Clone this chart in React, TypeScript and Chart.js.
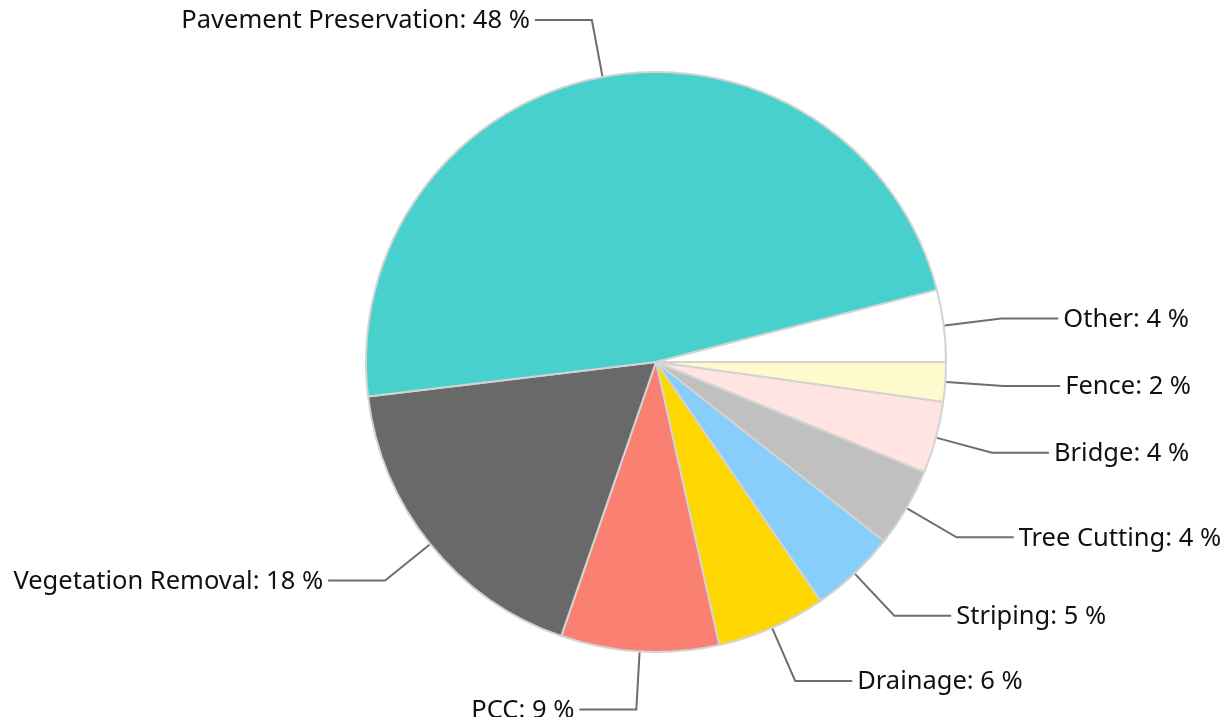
import React, { useEffect, useRef } from "react";
import { Chart, registerables } from "chart.js";

Chart.register(...registerables);

const categories = [
  "Fence",
  "Bridge",
  "Tree Cutting",
  "Striping",
  "Drainage",
  "PCC",
  "Vegetation Removal",
  "Pavement Preservation",
  "Other",
];
const values = [2.2, 4.0, 4.4, 4.8, 6.1, 8.8, 17.8, 47.9, 4.0];
const colors = [
  "#FFFACD",
  "#FFE4E1",
  "#C0C0C0",
  "#87CEFA",
  "#FFD700",
  "#FA8072",
  "#696969",
  "#48D1CC",
  "#FFFFFF",
];

const FONT = '25.5px "Noto Sans"';

const leaderPlugin = {
  id: "leaderLabels",
  afterDatasetsDraw(chart: any) {
    const ctx = chart.ctx;
    const meta = chart.getDatasetMeta(0);
    const data = chart.data.datasets[0].data as number[];
    const total = data.reduce((a, b) => a + b, 0);
    ctx.save();
    ctx.font = FONT;
    ctx.textBaseline = "middle";
    meta.data.forEach((arc: any, i: number) => {
      const { x, y, startAngle, endAngle, outerRadius } = arc.getProps(
        ["x", "y", "startAngle", "endAngle", "outerRadius"],
        true
      );
      const mid = (startAngle + endAngle) / 2;
      const c = Math.cos(mid);
      const s = Math.sin(mid);
      const r0 = outerRadius + 1;
      const r1 = outerRadius + 58;
      const x0 = x + c * r0;
      const y0 = y + s * r0;
      const x1 = x + c * r1;
      const y1 = y + s * r1;
      const dir = c >= 0 ? 1 : -1;
      const x2 = x1 + dir * 57;
      ctx.strokeStyle = "#6E6E6E";
      ctx.lineWidth = 2;
      ctx.beginPath();
      ctx.moveTo(x0, y0);
      ctx.lineTo(x1, y1);
      ctx.lineTo(x2, y1);
      ctx.stroke();
      const pct = Math.round((data[i] / total) * 100);
      const text = `${chart.data.labels[i]}: ${pct} %`;
      ctx.fillStyle = "#111111";
      ctx.textAlign = dir > 0 ? "left" : "right";
      ctx.fillText(text, x2 + dir * 5, y1 + 1);
    });
    ctx.restore();
  },
};

export default function App() {
  const ref = useRef<HTMLCanvasElement | null>(null);
  useEffect(() => {
    if (!ref.current) return;
    const chart = new Chart(ref.current, {
      type: "pie",
      data: {
        labels: categories,
        datasets: [
          {
            data: values,
            backgroundColor: colors,
            borderColor: "#D3D3D3",
            borderWidth: 2,
          },
        ],
      },
      options: {
        animation: false,
        responsive: true,
        maintainAspectRatio: false,
        rotation: 90,
        radius: 290,
        layout: { padding: { left: 84, right: 0, top: 0, bottom: 9 } },
        plugins: {
          legend: { display: false },
          tooltip: { enabled: false },
        },
      },
      plugins: [leaderPlugin],
    });
    return () => chart.destroy();
  }, []);
  return (
    <div
      style={{
        width: 1212,
        height: 717,
        marginBottom: -8,
        position: "relative",
      }}
    >
      <canvas ref={ref} />
    </div>
  );
}
